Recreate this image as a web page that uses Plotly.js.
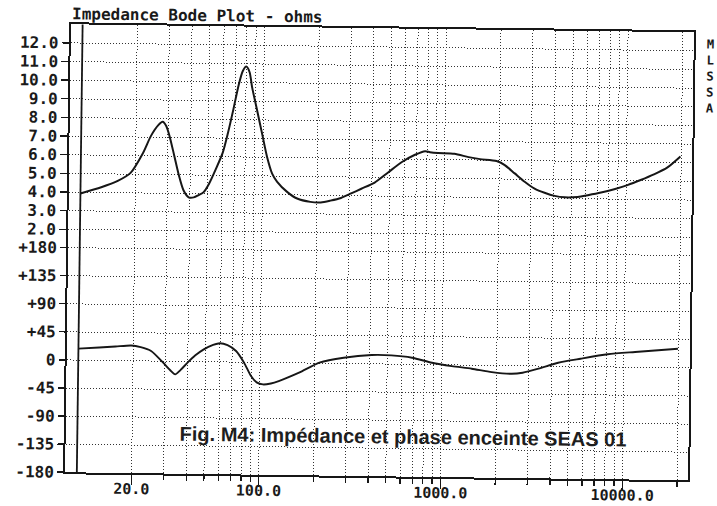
<!DOCTYPE html>
<html>
<head>
<meta charset="utf-8">
<script src="https://cdn.plot.ly/plotly-3.0.1.min.js"></script>
<style>
  html, body { margin: 0; padding: 0; background: #ffffff; overflow: hidden; }
  #chart { width: 717px; height: 506px; transform: rotate(0.74deg); transform-origin: 358.5px 253px; }
</style>
</head>
<body>
<div id="chart"></div>
<script>
// Impedance magnitude (ohms) vs frequency (Hz)
const freqZ = [10, 13, 16, 18.8, 21.8, 24.2, 26.5, 28, 29.3, 30.6, 32.6, 34.7, 36.9, 39.4, 42, 44.7, 47.6, 50.8, 55.3, 60.2, 64.1, 68.3, 72.8, 76.5, 80, 83.5, 86.3, 92.3, 98.7, 105.6, 112.9, 120.5, 136.8, 155.5, 184, 210, 237, 271, 308, 350, 414, 490, 580, 687, 781, 830, 920, 1131, 1354, 1566, 1930, 2144, 2435, 2765, 3140, 3566, 4050, 4600, 5432, 6170, 7290, 8610, 10170, 12010, 14190, 16760, 19800];
const impedance = [3.93, 4.28, 4.63, 5.07, 6.09, 7.07, 7.65, 7.83, 7.61, 7.08, 6.02, 4.96, 4.16, 3.8, 3.8, 3.93, 4.09, 4.53, 5.33, 6.22, 7.28, 8.52, 9.85, 10.6, 10.85, 10.55, 9.77, 8.53, 7.28, 6.02, 5.13, 4.69, 4.16, 3.81, 3.64, 3.62, 3.72, 3.87, 4.12, 4.38, 4.72, 5.27, 5.83, 6.24, 6.44, 6.39, 6.35, 6.32, 6.15, 6.05, 5.96, 5.75, 5.31, 4.87, 4.51, 4.29, 4.13, 4.06, 4.09, 4.19, 4.34, 4.53, 4.76, 5.04, 5.35, 5.72, 6.33];

// Phase (degrees) vs frequency (Hz)
const freqP = [10, 13, 16, 19.5, 22, 25.1, 29.3, 32, 34.2, 36.5, 39.9, 44, 48.9, 55, 59.9, 66, 73.6, 81.6, 89.3, 96, 104, 115, 127, 164, 212, 288, 410, 527, 684, 881, 1133, 1459, 1881, 2424, 2780, 3396, 4354, 5775, 8150, 11510, 19800];
const phase = [18.4, 20.5, 22.5, 24.5, 22, 16.1, -2.4, -14, -20.9, -14, -1.9, 10, 19.8, 27, 29.9, 27, 17.8, -0.75, -22, -32, -35.2, -33.5, -29.5, -15.7, 0.8, 9.3, 14.2, 14, 10.7, 3.1, -1.9, -5.7, -10.7, -13, -11.1, -4.3, 5.7, 12.6, 20.2, 24.5, 30.6];

// Axis ticks
const zTicks = [2, 3, 4, 5, 6, 7, 8, 9, 10, 11, 12];
const zTickText = ['2.0', '3.0', '4.0', '5.0', '6.0', '7.0', '8.0', '9.0', '10.0', '11.0', '12.0'];
const phTicks = [-180, -135, -90, -45, 0, 45, 90, 135, 180];
const phTickText = ['-180', '-135', '-90', '-45', '0', '+45', '+90', '+135', '+180'];
const fMajor = [20, 100, 1000, 10000];
const fMajorText = ['20.0', '100.0', '1000.0', '10000.0'];
const fMinor = [30, 40, 50, 60, 70, 80, 90, 200, 300, 400, 500, 600, 700, 800, 900, 2000, 3000, 4000, 5000, 6000, 7000, 8000, 9000, 20000];
const startFreq = 10;
const sideLabel = ['M', 'L', 'S', 'S', 'A'];

const ink = '#161616';
const gridInk = '#333333';
const monoFont = {family: 'DejaVu Sans Mono, monospace', size: 16, weight: 'bold', color: '#1a1a1a'};
const dotted = '1px,2px';

const traces = [
  {x: freqZ, y: impedance, xaxis: 'x', yaxis: 'y', mode: 'lines',
   line: {color: ink, width: 2, shape: 'spline', smoothing: 0.7}, hoverinfo: 'skip'},
  {x: freqP, y: phase, xaxis: 'x', yaxis: 'y2', mode: 'lines',
   line: {color: ink, width: 1.9, shape: 'spline', smoothing: 0.7}, hoverinfo: 'skip'}
];

const annotations = [
  {text: 'Fig. M4: Impédance et phase enceinte SEAS 01', xref: 'paper', yref: 'paper',
   x: 0.5415, y: 0.0896, xanchor: 'center', yanchor: 'middle', showarrow: false,
   font: {family: 'Liberation Sans, Arial, sans-serif', size: 20, weight: 'bold', color: '#1e1e1e'}},
  {text: sideLabel.join('<br>'), xref: 'paper', yref: 'paper', x: 1.0265, xanchor: 'center',
   y: (475.6 - 72) / 447.6, yanchor: 'middle', showarrow: false, align: 'center',
   font: {family: 'DejaVu Sans Mono, monospace', size: 12.3, weight: 'bold', color: '#1a1a1a'}}
];

const layout = {
  width: 717, height: 506,
  paper_bgcolor: '#ffffff', plot_bgcolor: '#ffffff',
  showlegend: false,
  margin: {l: 67.5, r: 26.2, t: 28, b: 30.4, pad: 0},
  title: {text: 'Impedance Bode Plot - ohms', xref: 'container', yref: 'container',
          x: 69 / 717, xanchor: 'left', y: 1 - 17.5 / 506, yanchor: 'middle',
          font: {family: 'DejaVu Sans Mono, monospace', size: 16, weight: 'bold', color: '#1a1a1a'}},
  xaxis: {
    type: 'log', range: [0.9357, 4.3617], fixedrange: true,
    tickvals: fMajor, ticktext: fMajorText,
    tickfont: {family: monoFont.family, size: 15, weight: 'bold', color: monoFont.color},
    ticks: 'outside', ticklen: 10, tickwidth: 1.4, tickcolor: ink,
    ticklabelstandoff: -9,
    showgrid: true, gridcolor: gridInk, griddash: dotted, gridwidth: 1,
    showline: true, linecolor: ink, linewidth: 2, mirror: true,
    zeroline: false,
    minor: {tickvals: fMinor, ticks: 'outside', ticklen: 5, tickwidth: 1.3, tickcolor: ink,
            showgrid: true, gridcolor: gridInk, griddash: dotted, gridwidth: 1}
  },
  yaxis: {
    range: [-11.03, 13.0], fixedrange: true,
    tickvals: zTicks, ticktext: zTickText, tickfont: monoFont,
    ticks: 'outside', ticklen: 7, tickwidth: 1.4, tickcolor: ink,
    showgrid: true, gridcolor: gridInk, griddash: dotted, gridwidth: 1,
    showline: true, linecolor: ink, linewidth: 2, mirror: true,
    zeroline: false
  },
  yaxis2: {
    range: [-180, 538], fixedrange: true, overlaying: 'y', side: 'left', anchor: 'x',
    tickvals: phTicks, ticktext: phTickText, tickfont: monoFont,
    ticks: 'outside', ticklen: 7, tickwidth: 1.4, tickcolor: ink,
    showgrid: true, gridcolor: gridInk, griddash: dotted, gridwidth: 1,
    showline: false, zeroline: false
  },
  shapes: [
    {type: 'line', xref: 'x', yref: 'paper', x0: startFreq, x1: startFreq, y0: 0, y1: 1,
     line: {color: ink, width: 1.8}}
  ],
  annotations: annotations
};

Plotly.newPlot('chart', traces, layout, {displayModeBar: false, staticPlot: true});
</script>
</body>
</html>
